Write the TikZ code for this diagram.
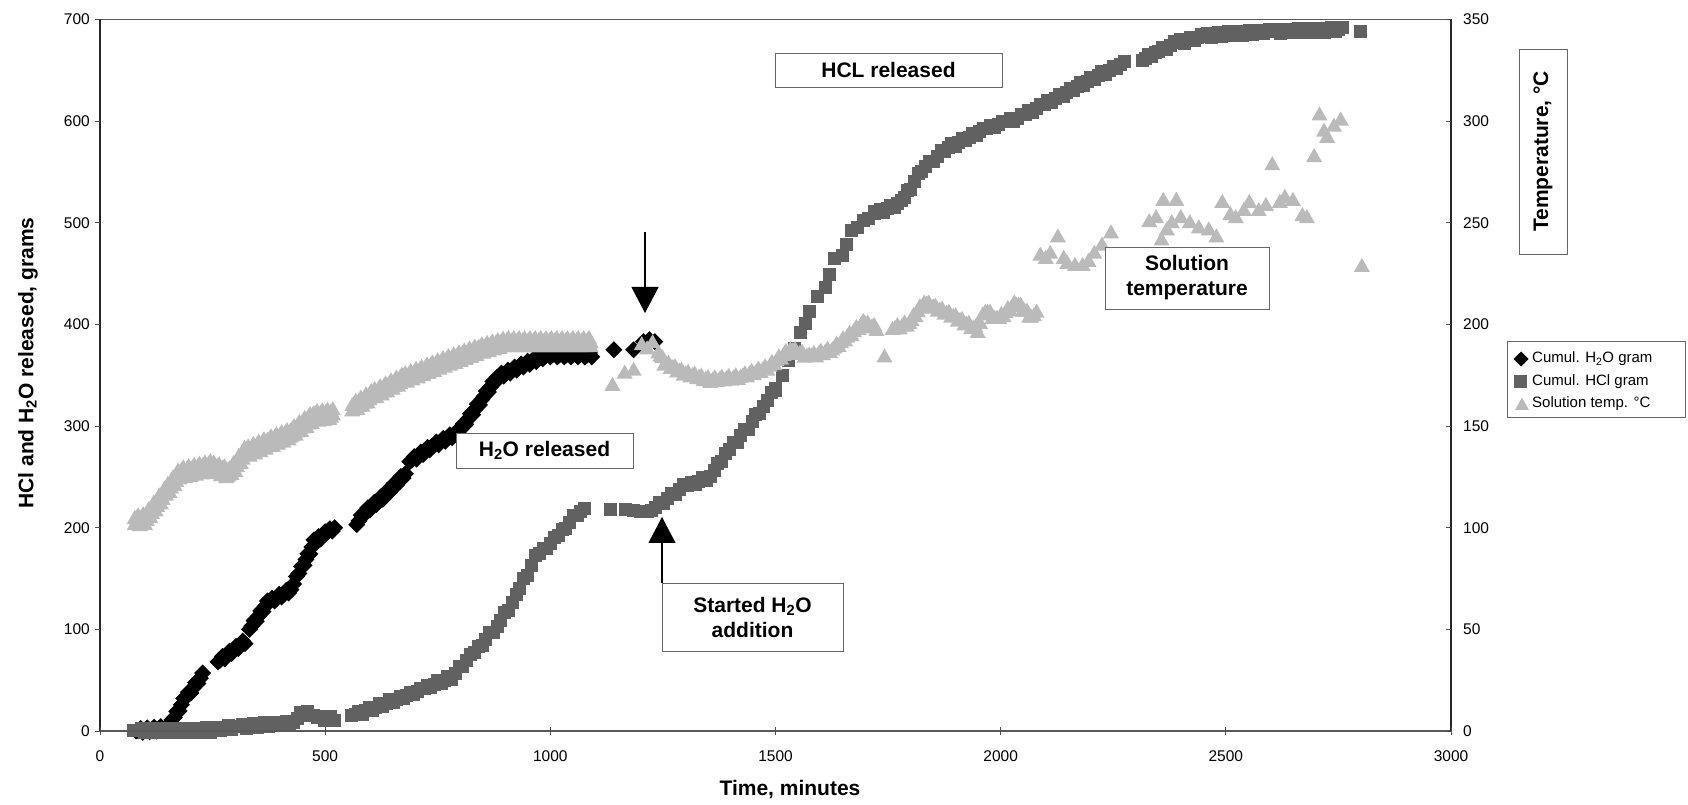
\documentclass[tikz,border=0pt]{standalone}
\usepackage{fontspec}
\setmainfont{Liberation Sans}
\usetikzlibrary{arrows.meta}
\tikzset{
  h2ofill/.style={fill=black},
  hclfill/.style={fill=black!62},
  tmpfill/.style={fill=black!27},
  axisline/.style={draw=black!85, line width=1.6pt},
  frameline/.style={draw=black!65, line width=1.1pt},
  tickline/.style={draw=black!70, line width=0.8pt},
  ticklab/.style={font=\fontsize{15.5}{18}\selectfont, inner sep=0pt},
  axtitle/.style={font=\fontsize{21}{24}\selectfont\bfseries, inner sep=0pt},
  annot/.style={draw=black!60, line width=0.7pt, fill=white, inner sep=0pt, align=center,
    font=\fontsize{21}{25}\selectfont\bfseries},
  legtext/.style={font=\fontsize{15}{17}\selectfont, inner sep=0pt, anchor=west},
  pointer/.style={draw=black, line width=1.1pt, -{Triangle[width=27pt,length=26pt]}}
}
\newcommand\mkD[2]{\fill[h2ofill] (#1,#2) +(-8.5,0) -- +(0,8.5) -- +(8.5,0) -- +(0,-8.5) -- cycle;}
\newcommand\mkS[2]{\fill[hclfill] (#1,#2) +(-6.5,-6.5) rectangle +(6.5,6.5);}
\newcommand\mkT[2]{\fill[tmpfill] (#1,#2) +(-8,-5.5) -- +(8,-5.5) -- +(0,8.5) -- cycle;}
\newcommand\mkDl[2]{\fill[h2ofill] (#1,#2) +(-7.5,0) -- +(0,7.5) -- +(7.5,0) -- +(0,-7.5) -- cycle;}
\newcommand\mkTl[2]{\fill[tmpfill] (#1,#2) +(-7,-5) -- +(7,-5) -- +(0,7.5) -- cycle;}
\newcommand\dpt[3]{\pgfmathsetmacro\pX{100+0.45033*(#2)}\pgfmathsetmacro\pY{74+1.0166*(#3)}#1{\pX}{\pY}}
\newcommand\series[3]{%
  \foreach \cT/\cV [count=\ci, remember=\cT as \pT (initially 0), remember=\cV as \pV (initially 0)] in {#3}{%
    \ifnum\ci=1 \dpt{#1}{\cT}{\cV}\else
      \pgfmathtruncatemacro\nn{max(1,round((\cT-\pT)/#2))}%
      \foreach \kk in {1,...,\nn}{\dpt{#1}{\pT+(\cT-\pT)*\kk/\nn}{\pV+(\cV-\pV)*\kk/\nn+mod(\kk,3)*2-2}}%
    \fi}}
\begin{document}
\begin{tikzpicture}[x=1pt,y=1pt]
\useasboundingbox (0,0) rectangle (1688,805);
\fill[white] (0,0) rectangle (1688,805);

% ---------- H2O (black diamonds)
\series{\mkD}{5}{80/0, 150/3, 160/9, 186/30, 228/55}
\series{\mkD}{5}{262/68, 322/88}
\series{\mkD}{5}{332/100, 372/126, 424/139, 436/150, 453/165, 466/176, 475/186, 500/194, 521/200}
\series{\mkD}{5}{570/203, 585/214, 628/230, 678/253}
\series{\mkD}{5}{688/265, 737/280, 797/294, 848/326, 882/348, 940/360, 983/368, 1000/370, 1092/370}
\foreach \a/\b in {1141/375, 1185/375, 1207/383, 1220/385, 1232/383}{\dpt{\mkD}{\a}{\b}}

% ---------- HCl (gray squares)
\series{\mkS}{8}{75/0, 245/1, 300/4, 430/8, 445/16, 460/17, 475/13, 520/12}
\series{\mkS}{8}{559/15, 628/26, 712/40, 780/53, 823/73, 882/103, 924/132, 967/171, 1009/188, 1060/214, 1075/217}
\foreach \a/\b in {1134/218, 1168/218, 1185/217, 1200/216, 1215/216}{\dpt{\mkS}{\a}{\b}}
\series{\mkS}{9}{1225/217, 1296/240, 1355/250, 1389/273, 1440/299, 1473/319, 1500/337}
\series{\mkS}{12}{1500/337, 1529/362, 1555/390, 1576/411, 1593/427, 1610/436, 1631/463, 1648/468, 1669/490, 1695/500, 1720/509}
\series{\mkS}{8}{1720/509, 1740/512, 1779/520, 1800/535, 1825/552, 1876/572, 1961/591, 2004/598, 2046/604, 2088/614, 2139/626, 2208/643, 2275/657}
\series{\mkS}{8}{2314/660, 2343/667, 2385/676, 2445/683, 2514/686, 2598/688, 2759/690}
\dpt{\mkS}{2798}{688}

% ---------- Solution temperature (light triangles), left-axis units = 2*T
\series{\mkT}{4}{77/203, 100/205, 143/230, 177/250, 245/257, 288/250, 321/270, 372/280, 423/289, 474/306, 517/309}
\series{\mkT}{4}{77/209, 100/211, 143/236, 177/256, 245/263, 288/256, 321/276, 372/286, 423/295, 474/312, 517/314}
\series{\mkT}{4}{560/315, 602/327, 670/343, 754/358, 840/372, 899/380, 1090/380}
\series{\mkT}{4}{560/320, 602/332, 670/348, 754/363, 840/377, 899/384, 1090/384}
\foreach \a/\b in {1138/340, 1165/352, 1185/355, 1203/380, 1215/376, 1227/382}{\dpt{\mkT}{\a}{\b}}
\series{\mkT}{5}{1240/372, 1253/362, 1296/352, 1355/345, 1422/348, 1482/357, 1533/375, 1575/368, 1626/375, 1669/391, 1695/401, 1724/396}
\dpt{\mkT}{1742}{368}
\series{\mkT}{5}{1760/395, 1797/401, 1830/421, 1890/409, 1949/394, 1966/414, 1992/404, 2035/421, 2068/407, 2080/410}
\foreach \a/\b in {2088/468, 2100/465, 2110/470, 2127/486, 2140/465, 2148/460, 2165/458, 2182/458, 2195/462,
  2208/470, 2225/478, 2245/490, 2330/501, 2345/505, 2357/483, 2361/522, 2369/493, 2380/500, 2390/522,
  2400/505, 2420/500, 2440/495, 2462/493, 2479/486, 2492/520, 2510/508, 2522/505, 2540/512, 2552/520,
  2573/512, 2589/517, 2603/557, 2620/520, 2631/525, 2649/522, 2670/507, 2680/505, 2696/565, 2708/606,
  2718/590, 2725/584, 2740/595, 2755/601, 2802/457}{\dpt{\mkT}{\a}{\b}}

% ---------- frame and axes
\draw[frameline] (100,785.6) -- (1451,785.6);
\draw[frameline] (100,74) -- (1451,74);
\draw[axisline] (100,74) -- (100,785.6);
\draw[axisline] (1451,74) -- (1451,785.6);
\foreach \yv in {0,100,...,700}{
  \pgfmathsetmacro\yy{74+1.0166*\yv}
  \draw[tickline] (95,\yy) -- (100,\yy);
  \node[ticklab, anchor=east] (yl\yv) at (90,\yy) {\yv};
}
\foreach \tv in {0,50,...,350}{
  \pgfmathsetmacro\yy{74+2.0332*\tv}
  \draw[tickline] (1446,\yy) -- (1451,\yy);
  \node[ticklab, anchor=west] (rl\tv) at (1463,\yy) {\tv};
}
\foreach \xt in {0,500,...,3000}{
  \pgfmathsetmacro\xx{100+0.45033*\xt}
  \draw[tickline] (\xx,70) -- (\xx,78);
  \node[ticklab] (xl\xt) at (\xx,49) {\xt};
}
\node[axtitle, rotate=90] (ytitle) at (28,442) {HCl and H\textsubscript{2}O released, grams};
\node[axtitle] (xtitle) at (790,15) {Time, minutes};
\node[annot, minimum width=48pt, minimum height=205pt] (tbox) at (1543,653.5) {};
\node[axtitle, rotate=90] (ttitle) at (tbox.center) {Temperature, °C};

% ---------- legend
\node[draw=black!60, line width=0.7pt, minimum width=178pt, minimum height=76pt, inner sep=0pt] (legend) at (1596,426) {};
\mkDl{1521}{446}
\mkS{1520}{423}
\mkTl{1522}{400}
\node[legtext] (leg1) at (1532,446) {Cumul. H\textsubscript{2}O gram};
\node[legtext] (leg2) at (1532,423) {Cumul. HCl gram};
\node[legtext] (leg3) at (1532,401) {Solution temp. °C};

% ---------- annotations
\node[annot, minimum width=227pt, minimum height=34pt] (hclrel) at (888.5,735) {HCL released};
\node[annot, minimum width=177pt, minimum height=35pt] (h2orel) at (544.5,354.5) {H\textsubscript{2}O released};
\node[annot, minimum width=164pt, minimum height=62pt] (soltemp) at (1187,527) {Solution\\temperature};
\node[annot, minimum width=181pt, minimum height=68pt] (started) at (752.5,188) {Started H\textsubscript{2}O\\addition};
\coordinate (downStart) at (645,573);
\coordinate (downTip) at (645,492);
\coordinate (upTip) at (662,288);
\draw[pointer] (downStart) -- (downTip);
\draw[pointer] (started.north west -| upTip) -- (upTip);
\end{tikzpicture}
\end{document}
